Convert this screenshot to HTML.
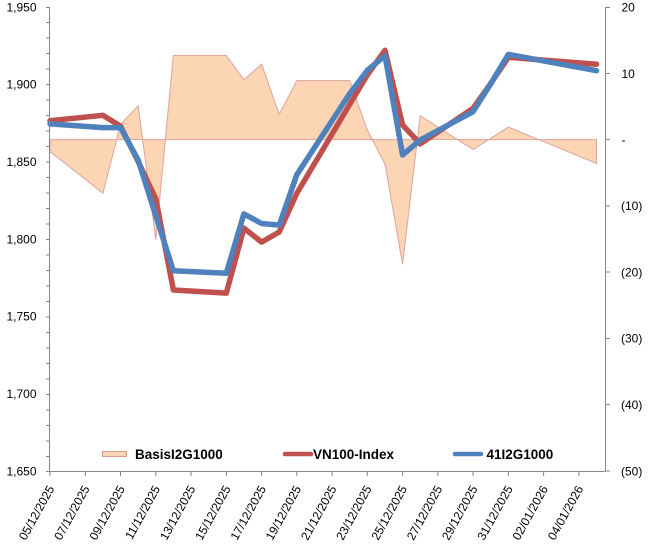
<!DOCTYPE html>
<html><head><meta charset="utf-8"><style>
html,body{margin:0;padding:0;background:#fff;}
svg{display:block;}
text{font-family:"Liberation Sans",Arial,sans-serif;fill:#000;}
</style></head><body>
<svg width="648" height="547" viewBox="0 0 648 547" xmlns="http://www.w3.org/2000/svg">
<!-- Basis area -->
<polygon points="50,139.6 50,151.5 102.9,193.3 120.5,124.4 138.2,105.8 155.8,239.7 173.4,55.4 226.3,55.4 243.9,79.9 261.6,64 279.2,114.4 296.8,80.6 349.7,80.6 367.3,130 385,164 402.6,264.2 420.2,115.7 473.1,149.5 490.8,138.3 508.4,127 543.6,141.6 596.5,163.5 596.5,139.6"
 fill="#FCD5B5" stroke="#E0A39B" stroke-width="1" stroke-linejoin="miter"/>
<!-- Red line VN100-Index -->
<polyline fill="none" stroke="#C0504D" stroke-width="5.5" stroke-linejoin="round" stroke-linecap="round"
 points="50,120.7 102.9,115.3 120.5,126.1 138.2,161.7 155.8,198.8 173.4,290 226.3,293.1 243.9,228.2 261.6,242.1 279.2,232 296.8,193.4 349.7,104.4 367.3,75 385,50.3 402.6,125 420.2,143.9 473.1,108.3 490.8,83.3 508.4,57.3 543.6,60.1 596.5,64.2"/>
<!-- Blue line -->
<polyline fill="none" stroke="#4F81BD" stroke-width="5.5" stroke-linejoin="round" stroke-linecap="round"
 points="50,123.9 102.9,127.6 120.5,127.6 138.2,160.1 155.8,215.8 173.4,270.7 226.3,273.3 243.9,213.9 261.6,223.5 279.2,225.1 296.8,174.8 349.7,93.6 367.3,70.4 385,55.7 402.6,155 420.2,140 473.1,111.7 490.8,83.6 508.4,54.3 543.6,60.9 596.5,70.7"/>
<!-- Axes -->
<g stroke="#868686" stroke-width="1" fill="none">
<line x1="49.5" y1="7" x2="49.5" y2="471.5"/>
<line x1="605.5" y1="7" x2="605.5" y2="471.5"/>
<line x1="49.5" y1="471.5" x2="605.5" y2="471.5"/>
<path d="M46,7.5H49.5M46,22.5H49.5M46,38H49.5M46,53.5H49.5M46,69H49.5M46,84.5H49.5M46,100H49.5M46,115.5H49.5M46,131H49.5M46,146.5H49.5M46,162H49.5M46,177.5H49.5M46,193H49.5M46,208.5H49.5M46,224H49.5M46,239.5H49.5M46,255H49.5M46,270.5H49.5M46,286H49.5M46,301.5H49.5M46,317H49.5M46,332.5H49.5M46,348H49.5M46,363.5H49.5M46,379H49.5M46,394.5H49.5M46,410H49.5M46,425.5H49.5M46,441H49.5M46,456.5H49.5M46,471.5H49.5"/>
<path d="M605.5,7.5H610M605.5,73.5H610M605.5,139.5H610M605.5,206H610M605.5,272H610M605.5,338.5H610M605.5,404.5H610M605.5,471H610"/>
<path d="M50,471.5V476M85.3,471.5V476M120.5,471.5V476M155.8,471.5V476M191,471.5V476M226.3,471.5V476M261.6,471.5V476M296.8,471.5V476M332.1,471.5V476M367.3,471.5V476M402.6,471.5V476M437.9,471.5V476M473.1,471.5V476M508.4,471.5V476M543.6,471.5V476M578.9,471.5V476"/>
</g>
<!-- Left labels -->
<g font-size="12" text-anchor="end">
<text x="36.5" y="11.3">1,950</text>
<text x="36.5" y="88.6">1,900</text>
<text x="36.5" y="166">1,850</text>
<text x="36.5" y="243.3">1,800</text>
<text x="36.5" y="320.6">1,750</text>
<text x="36.5" y="398">1,700</text>
<text x="36.5" y="475.3">1,650</text>
</g>
<!-- Right labels -->
<g font-size="12">
<text x="621.5" y="11.6">20</text>
<text x="621.5" y="77.9">10</text>
<text x="621.5" y="143.9">-</text>
<text x="621" y="210.2">(10)</text>
<text x="621" y="276.4">(20)</text>
<text x="621" y="342.7">(30)</text>
<text x="621" y="409">(40)</text>
<text x="621" y="475.3">(50)</text>
</g>
<!-- X labels -->
<g font-size="12" text-anchor="end">
<text transform="translate(54.7,488.5) rotate(-61)">05/12/2025</text>
<text transform="translate(90,488.5) rotate(-61)">07/12/2025</text>
<text transform="translate(125.2,488.5) rotate(-61)">09/12/2025</text>
<text transform="translate(160.5,488.5) rotate(-61)">11/12/2025</text>
<text transform="translate(195.7,488.5) rotate(-61)">13/12/2025</text>
<text transform="translate(231,488.5) rotate(-61)">15/12/2025</text>
<text transform="translate(266.3,488.5) rotate(-61)">17/12/2025</text>
<text transform="translate(301.5,488.5) rotate(-61)">19/12/2025</text>
<text transform="translate(336.8,488.5) rotate(-61)">21/12/2025</text>
<text transform="translate(372,488.5) rotate(-61)">23/12/2025</text>
<text transform="translate(407.3,488.5) rotate(-61)">25/12/2025</text>
<text transform="translate(442.6,488.5) rotate(-61)">27/12/2025</text>
<text transform="translate(477.8,488.5) rotate(-61)">29/12/2025</text>
<text transform="translate(513.1,488.5) rotate(-61)">31/12/2025</text>
<text transform="translate(548.3,488.5) rotate(-61)">02/01/2026</text>
<text transform="translate(583.6,488.5) rotate(-61)">04/01/2026</text>
</g>
<!-- Legend -->
<rect x="102.5" y="451.5" width="24" height="5" fill="#FCD5B5" stroke="#D99A90" stroke-width="1"/>
<text x="135" y="458.8" font-size="13.5" font-weight="bold">BasisI2G1000</text>
<line x1="285" y1="454" x2="311" y2="454" stroke="#C0504D" stroke-width="4.5" stroke-linecap="round"/>
<text x="313" y="458.8" font-size="13.5" font-weight="bold">VN100-Index</text>
<line x1="455" y1="454" x2="481" y2="454" stroke="#4F81BD" stroke-width="4.5" stroke-linecap="round"/>
<text x="486.5" y="458.8" font-size="13.5" font-weight="bold">41I2G1000</text>
</svg>
</body></html>
